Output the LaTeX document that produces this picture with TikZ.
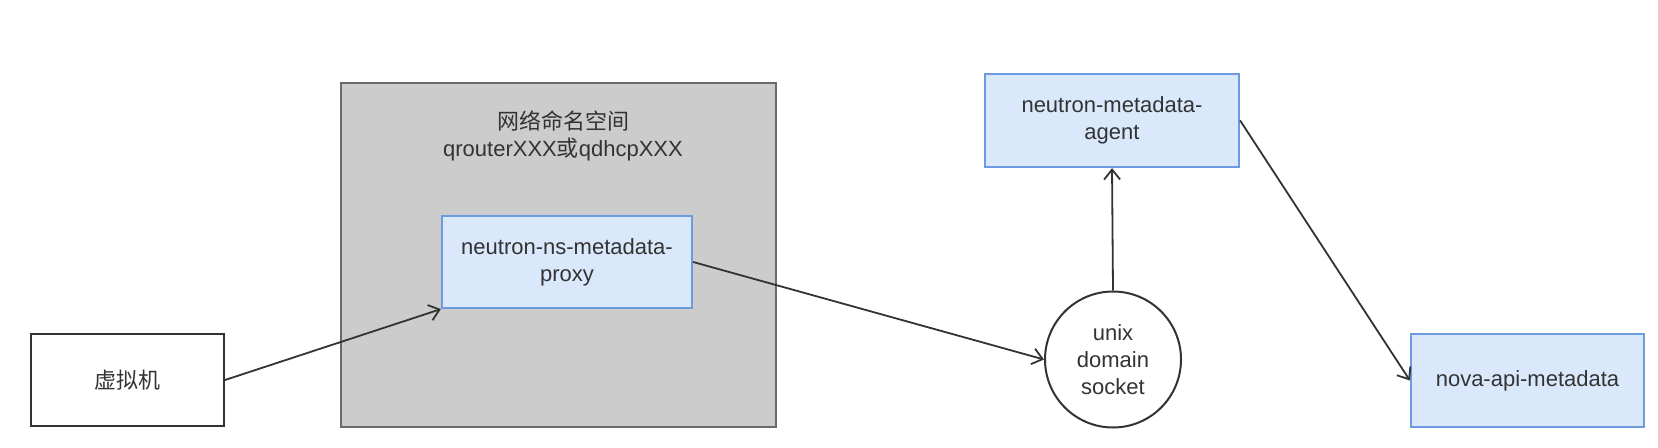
\documentclass[tikz,border=0pt]{standalone}
\usepackage{fontspec}
\setmainfont{Liberation Sans}
\newfontfamily\cjk{Noto Sans CJK SC}
\usepackage{tikz}
\usetikzlibrary{arrows.meta}
\definecolor{boxblue}{HTML}{DAE8FC}
\definecolor{lineblue}{HTML}{6E9BE0}
\definecolor{nsgrey}{HTML}{CCCCCC}
\definecolor{nsline}{HTML}{6A6A6A}
\definecolor{ink}{HTML}{333333}
\tikzset{
  plain/.style={draw=ink,line width=1pt,fill=white,align=center,inner sep=0pt},
  blue box/.style={draw=lineblue,line width=1.1pt,fill=boxblue,align=center,inner sep=0pt},
  ns box/.style={draw=nsline,line width=1.2pt,fill=nsgrey,inner sep=0pt},
  flow/.style={draw=ink,line width=0.9pt,-{Straight Barb[length=5pt,width=8pt]}}
}

\begin{document}
\begin{tikzpicture}[x=0.5pt,y=-0.5pt,font=\fontsize{11}{13.5}\selectfont,text=ink]
 	\useasboundingbox (0,0) rectangle (1658,448);
 	\node[ns box,minimum width=217.5pt,minimum height=172pt] (ns) at (558.5,255) {};
 	\node[align=center,inner sep=0pt] (nstitle) at (563,135.5) {{\cjk 网络命名空间}\\qrouterXXX{\cjk 或}qdhcpXXX};
 	\node[plain,minimum width=96.5pt,minimum height=46pt] (vm) at (127.5,380) {\cjk 虚拟机};
 	\node[blue box,minimum width=125pt,minimum height=46pt] (proxy) at (567,262) {neutron-ns-metadata-\\proxy};
 	\node[blue box,minimum width=127pt,minimum height=46.5pt] (agent) at (1112,120.5) {neutron-metadata-\\agent};
 	\node[plain,circle,minimum size=68pt] (sock) at (1113,359.5) {unix\\domain\\socket};
 	\node[blue box,minimum width=116.5pt,minimum height=46.5pt] (nova) at (1527.5,380.5) {nova-api-metadata};
 	\draw [flow] (vm.east) -- (proxy.south west);
 	\draw [flow] (proxy.east) -- (sock.west);
 	\draw [flow] (sock.north) -- (agent.south);
 	\draw [flow] (agent.east) -- (nova.west);
\end{tikzpicture}
\end{document}
